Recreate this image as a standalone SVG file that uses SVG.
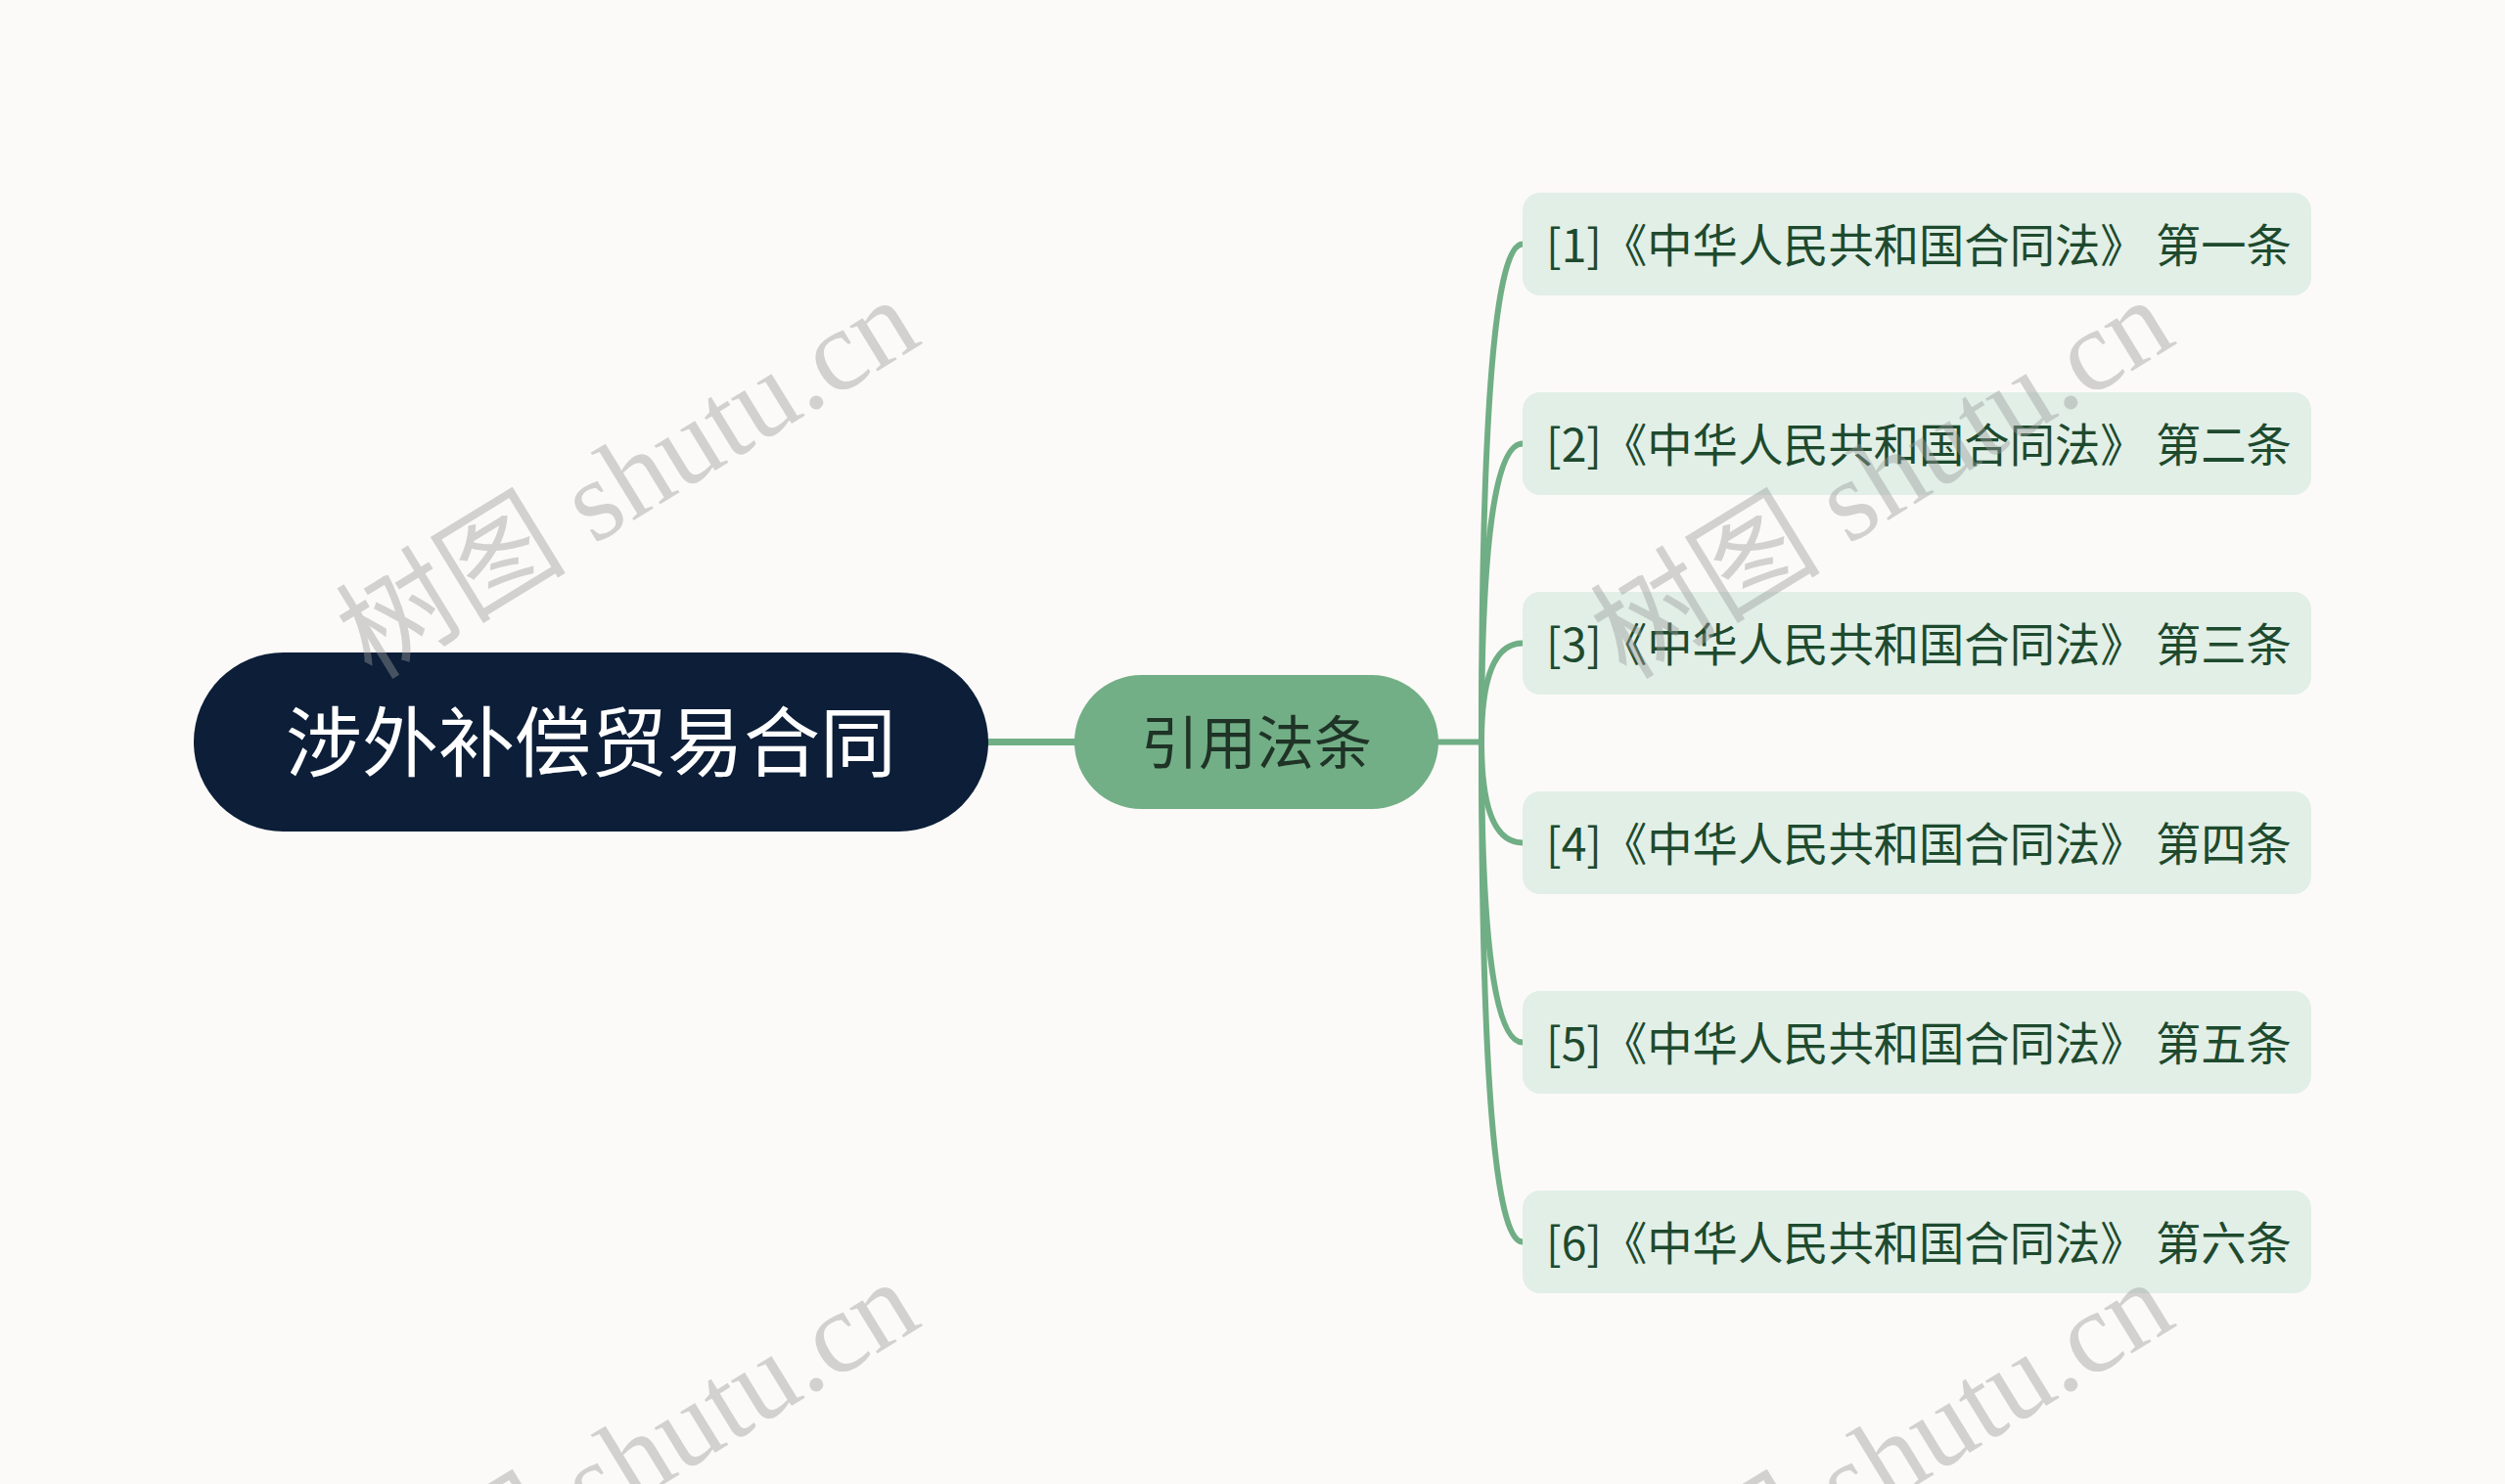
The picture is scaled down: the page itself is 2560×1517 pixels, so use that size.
<svg xmlns="http://www.w3.org/2000/svg" width="2560" height="1517" viewBox="0 0 2560 1517">
<style>
.bg{fill:#FCFAF8}
.conn{fill:none;stroke:#70AE85;stroke-width:6;stroke-linecap:round}
.root{fill:#0C1E38}
.mid{fill:#72AF86}
.leaf{fill:#E1EFE7}
.cjk{font-family:"Noto Sans CJK SC","Noto Sans",sans-serif;dominant-baseline:central}
.t-root{font-size:78px;fill:#FFFFFF;text-anchor:middle}
.t-mid{font-size:59px;fill:#1F3326;text-anchor:middle}
.t-leaf{font-size:46.3px;fill:#1E4A2E}
.wm{font-family:"Liberation Serif","Noto Sans CJK SC",serif;font-size:118px;fill:#9A9A9A;opacity:0.42}
</style>
<rect class="bg" x="0" y="0" width="2560" height="1517"/>

<g id="connectors">
<path class="conn" style="stroke-width:7" d="M1010,758.5 L1098,758.5"/>
<path class="conn" d="M1470,758.5 L1514,758.5"/>
<path class="conn" d="M1514,758.5 Q1514,249.5 1556,249.5"/>
<path class="conn" d="M1514,758.5 Q1514,453.5 1556,453.5"/>
<path class="conn" d="M1514,758.5 Q1514,657.5 1556,657.5"/>
<path class="conn" d="M1514,758.5 Q1514,861.5 1556,861.5"/>
<path class="conn" d="M1514,758.5 Q1514,1065.5 1556,1065.5"/>
<path class="conn" d="M1514,758.5 Q1514,1269.5 1556,1269.5"/>
</g>

<g id="node-root">
<rect class="root" x="198" y="667" width="812" height="183" rx="91.5"/>
<text class="cjk t-root" x="604" y="754">涉外补偿贸易合同</text>
</g>

<g id="node-mid">
<rect class="mid" x="1098" y="690" width="372" height="137" rx="68.5"/>
<text class="cjk t-mid" x="1284" y="755.5">引用法条</text>
</g>

<g id="leaf-1">
<rect class="leaf" x="1556" y="197" width="806" height="105" rx="18"/>
<text class="cjk t-leaf" x="1580" y="247.5">[1]《中华人民共和国合同法》 第一条</text>
</g>
<g id="leaf-2">
<rect class="leaf" x="1556" y="401" width="806" height="105" rx="18"/>
<text class="cjk t-leaf" x="1580" y="451.5">[2]《中华人民共和国合同法》 第二条</text>
</g>
<g id="leaf-3">
<rect class="leaf" x="1556" y="605" width="806" height="105" rx="18"/>
<text class="cjk t-leaf" x="1580" y="655.5">[3]《中华人民共和国合同法》 第三条</text>
</g>
<g id="leaf-4">
<rect class="leaf" x="1556" y="809" width="806" height="105" rx="18"/>
<text class="cjk t-leaf" x="1580" y="859.5">[4]《中华人民共和国合同法》 第四条</text>
</g>
<g id="leaf-5">
<rect class="leaf" x="1556" y="1013" width="806" height="105" rx="18"/>
<text class="cjk t-leaf" x="1580" y="1063.5">[5]《中华人民共和国合同法》 第五条</text>
</g>
<g id="leaf-6">
<rect class="leaf" x="1556" y="1217" width="806" height="105" rx="18"/>
<text class="cjk t-leaf" x="1580" y="1267.5">[6]《中华人民共和国合同法》 第六条</text>
</g>

<g id="watermarks">
<text class="wm" transform="translate(380,696) rotate(-31.5)">树图 shutu.cn</text>
<text class="wm" transform="translate(1662,696) rotate(-31.5)">树图 shutu.cn</text>
<text class="wm" transform="translate(380,1700) rotate(-31.5)">树图 shutu.cn</text>
<text class="wm" transform="translate(1662,1700) rotate(-31.5)">树图 shutu.cn</text>
</g>
</svg>
